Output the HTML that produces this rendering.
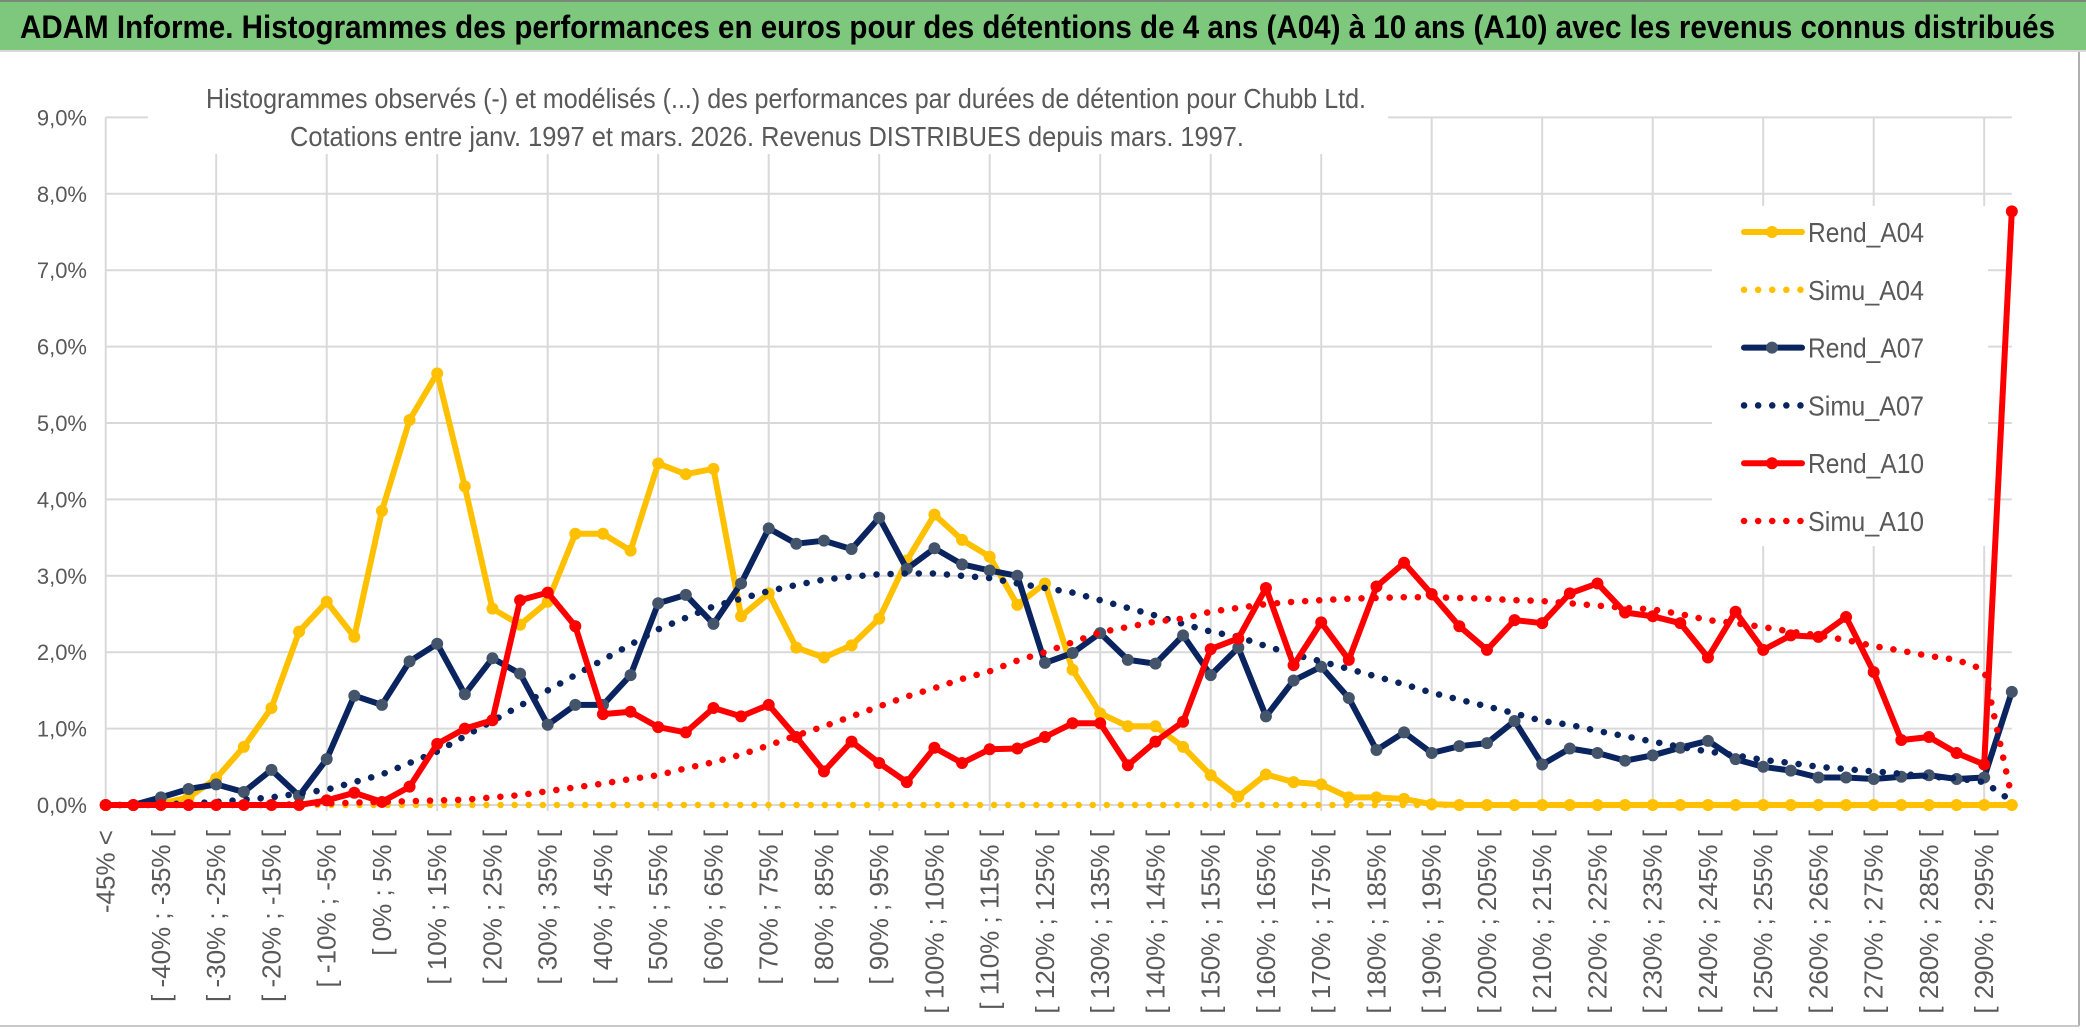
<!DOCTYPE html>
<html><head><meta charset="utf-8"><style>
html,body{margin:0;padding:0;background:#fff;}
svg{display:block;}
text{font-family:"Liberation Sans",sans-serif;}
</style></head><body>
<svg id="chart" width="2086" height="1031" viewBox="0 0 2086 1031" xmlns="http://www.w3.org/2000/svg">
<rect x="0" y="0" width="2086" height="1031" fill="#fff"/>
<rect x="0" y="0" width="2086" height="50" fill="#7dc87c"/>
<line x1="0" y1="1" x2="2086" y2="1" stroke="#7a8a7a" stroke-width="2"/>
<line x1="0" y1="51" x2="2086" y2="51" stroke="#d8d8d8" stroke-width="2"/>
<text x="20" y="38" font-size="32" font-weight="bold" fill="#000" textLength="2035" lengthAdjust="spacingAndGlyphs">ADAM Informe. Histogrammes des performances en euros pour des détentions de 4 ans (A04) à 10 ans (A10) avec les revenus connus distribués</text>
<line x1="2079" y1="52" x2="2079" y2="1026" stroke="#b0b0b0" stroke-width="2"/>
<line x1="0" y1="1026" x2="2079" y2="1026" stroke="#c8c8c8" stroke-width="2"/>
<g id="grid"></g>
<g id="series"></g>
<rect x="148" y="66" width="1240" height="88" fill="#fff"/>
<text x="786" y="108" font-size="28" fill="#595959" text-anchor="middle" textLength="1160" lengthAdjust="spacingAndGlyphs">Histogrammes observés (-) et modélisés (...) des performances par durées de détention pour Chubb Ltd.</text>
<text x="767" y="146" font-size="28" fill="#595959" text-anchor="middle" textLength="954" lengthAdjust="spacingAndGlyphs">Cotations entre janv. 1997 et mars. 2026. Revenus DISTRIBUES depuis mars. 1997.</text>
<g id="yaxis"></g>
<g id="xaxis"></g>
<g id="legend"></g>
</svg>
<script>
const rendA04 = [0,0,0.02,0.1,0.35,0.76,1.27,2.27,2.66,2.2,3.85,5.04,5.65,4.17,2.57,2.36,2.66,3.55,3.55,3.33,4.47,4.33,4.4,2.47,2.77,2.06,1.93,2.09,2.44,3.2,3.8,3.47,3.25,2.62,2.9,1.77,1.2,1.03,1.03,0.76,0.39,0.11,0.4,0.3,0.27,0.1,0.1,0.08,0.01,0,0,0,0,0,0,0,0,0,0,0,0,0,0,0,0,0,0,0,0,0];
const simuA04 = [0,0,0,0,0,0,0,0,0,0,0,0,0,0,0,0,0,0,0,0,0,0,0,0,0,0,0,0,0,0,0,0,0,0,0,0,0,0,0,0,0,0,0,0,0,0,0,0,0,0,0,0,0,0,0,0,0,0,0,0,0,0,0,0,0,0,0,0,0,0];
const rendA07 = [0,0,0.1,0.21,0.27,0.17,0.46,0.12,0.6,1.43,1.31,1.88,2.11,1.45,1.92,1.72,1.05,1.31,1.31,1.7,2.64,2.75,2.37,2.9,3.62,3.42,3.46,3.35,3.76,3.09,3.36,3.15,3.07,3.0,1.86,1.99,2.25,1.9,1.85,2.22,1.7,2.06,1.16,1.63,1.81,1.4,0.72,0.95,0.68,0.77,0.81,1.1,0.53,0.74,0.68,0.58,0.65,0.75,0.84,0.6,0.5,0.45,0.36,0.36,0.34,0.37,0.39,0.34,0.36,1.48];
const simuA07 = [0,0,0.01,0.02,0.04,0.07,0.1,0.15,0.2,0.3,0.4,0.55,0.7,0.9,1.1,1.3,1.5,1.7,1.9,2.1,2.3,2.45,2.6,2.7,2.8,2.88,2.95,2.99,3.02,3.03,3.03,3.0,2.97,2.9,2.84,2.78,2.68,2.58,2.48,2.37,2.27,2.2,2.08,1.97,1.88,1.78,1.68,1.58,1.47,1.38,1.29,1.2,1.1,1.05,0.97,0.9,0.83,0.76,0.7,0.65,0.59,0.55,0.5,0.47,0.44,0.41,0.37,0.35,0.3,0.05];
const rendA10 = [0,0,0,0,0,0,0,0,0.06,0.16,0.04,0.24,0.8,1.0,1.11,2.68,2.78,2.34,1.19,1.22,1.02,0.95,1.27,1.16,1.31,0.89,0.44,0.83,0.55,0.3,0.75,0.55,0.73,0.74,0.89,1.07,1.07,0.52,0.83,1.09,2.04,2.18,2.84,1.83,2.39,1.9,2.86,3.17,2.76,2.34,2.03,2.42,2.38,2.77,2.9,2.52,2.47,2.38,1.93,2.53,2.03,2.22,2.2,2.46,1.74,0.85,0.89,0.68,0.53,7.77];
const simuA10 = [0,0,0,0,0,0,0,0.01,0.02,0.03,0.04,0.05,0.06,0.07,0.1,0.13,0.18,0.23,0.28,0.34,0.39,0.48,0.56,0.66,0.78,0.91,1.03,1.16,1.29,1.42,1.53,1.65,1.75,1.89,2.0,2.13,2.26,2.33,2.4,2.44,2.53,2.58,2.63,2.66,2.68,2.7,2.71,2.72,2.72,2.71,2.7,2.68,2.67,2.64,2.61,2.58,2.56,2.5,2.42,2.38,2.33,2.27,2.22,2.16,2.08,2.02,1.95,1.9,1.77,0.1];
const yTicks = [0,1,2,3,4,5,6,7,8,9];
const yTickLabels = ["0,0%","1,0%","2,0%","3,0%","4,0%","5,0%","6,0%","7,0%","8,0%","9,0%"];
const seriesNames = ["Rend_A04","Simu_A04","Rend_A07","Simu_A07","Rend_A10","Simu_A10"];
const categories = ["-45% <"];
for (let a = -45; a < 300; a += 5) categories.push("[ " + a + "% ; " + (a + 5) + "% [");

const NS = "http://www.w3.org/2000/svg";
const X0 = 105.7, DX = 27.625, Y0 = 805, DY = 76.4;
function xs(i){ return X0 + i * DX; }
function ys(v){ return Y0 - v * DY; }
function mk(tag, attrs, parent){ const e = document.createElementNS(NS, tag); for (const k in attrs) e.setAttribute(k, attrs[k]); parent.appendChild(e); return e; }

const grid = document.getElementById('grid');
yTicks.forEach(function(t){
  const l = mk('line', {x1: X0, x2: xs(categories.length - 1), y1: ys(t), y2: ys(t), stroke: '#d9d9d9', 'stroke-width': 2}, grid);
  
  
});
for (let i = 0; i < categories.length; i += 4) {
  const l = mk('line', {x1: xs(i), x2: xs(i), y1: ys(9), y2: Y0 + 6, stroke: '#d9d9d9', 'stroke-width': 2}, grid);
  
  
}

const yax = document.getElementById('yaxis');
yTicks.forEach(function(t, i){
  const tx = mk('text', {x: 87, y: ys(t) + 8, 'font-size': 22, fill: '#595959', 'text-anchor': 'end'}, yax);
  tx.textContent = yTickLabels[i];
  
  
});

const xax = document.getElementById('xaxis');
categories.forEach(function(c, i){
  if (i % 2) return;
  const x = xs(i) + 9, y = 830;
  const tx = mk('text', {x: x, y: y, 'font-size': 26, fill: '#595959', 'text-anchor': 'end', transform: 'rotate(-90 ' + x + ' ' + y + ')'}, xax);
  tx.textContent = c;
  
  
});

const ser = document.getElementById('series');
function pts(arr){ return arr.map(function(v, i){ return xs(i).toFixed(1) + ',' + ys(v).toFixed(1); }).join(' '); }
function solid(arr, color, marker, name){
  const g = mk('g', {}, ser);
  
  
  const pl = mk('polyline', {points: pts(arr), fill: 'none', stroke: color, 'stroke-width': 6, 'stroke-linejoin': 'round', 'stroke-linecap': 'round'}, g);
  
  
  arr.forEach(function(v, i){
    const c = mk('circle', {cx: xs(i), cy: ys(v), r: 6, fill: marker}, g);
    
    
  });
}
function dotted(arr, color, name){
  const pl = mk('polyline', {points: pts(arr), fill: 'none', stroke: color, 'stroke-width': 6.5, 'stroke-linecap': 'round', 'stroke-linejoin': 'round', 'stroke-dasharray': '0.1 14'}, ser);
  
  
}
solid(rendA04, '#ffc000', '#ffc000', 'rend-a04');
dotted(simuA04, '#ffc000', 'simu-a04');
solid(rendA07, '#0a2460', '#44546a', 'rend-a07');
dotted(simuA07, '#0a2460', 'simu-a07');
solid(rendA10, '#ff0000', '#ff0000', 'rend-a10');
dotted(simuA10, '#ff0000', 'simu-a10');

const leg = document.getElementById('legend');
const lb = mk('rect', {x: 1712, y: 206, width: 276, height: 340, fill: '#fff'}, leg);


const legColors = ['#ffc000','#ffc000','#0a2460','#0a2460','#ff0000','#ff0000'];
const legMarkers = ['#ffc000','','#44546a','','#ff0000',''];
seriesNames.forEach(function(n, i){
  const y = 232 + i * 57.8;
  const g = mk('g', {}, leg);
  
  
  if (i % 2 === 0) {
    mk('line', {x1: 1744, x2: 1802, y1: y, y2: y, stroke: legColors[i], 'stroke-width': 6, 'stroke-linecap': 'round'}, g);
    mk('circle', {cx: 1772, cy: y, r: 6, fill: legMarkers[i]}, g);
  } else {
    mk('line', {x1: 1744, x2: 1802, y1: y, y2: y, stroke: legColors[i], 'stroke-width': 6.5, 'stroke-linecap': 'round', 'stroke-dasharray': '0.1 14'}, g);
  }
  const t = mk('text', {x: 1808, y: y + 10, 'font-size': 28, fill: '#595959', textLength: 116, lengthAdjust: 'spacingAndGlyphs'}, g);
  t.textContent = n;
});
</script>
</body></html>
